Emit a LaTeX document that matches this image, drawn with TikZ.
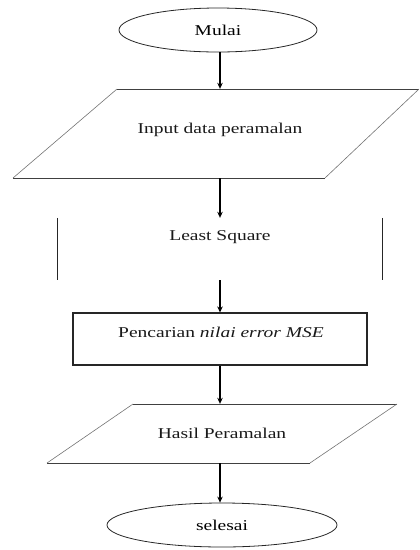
\documentclass[tikz,border=0pt]{standalone}
\usepackage{fontspec}
\setmainfont[FakeStretch=1.3]{Liberation Serif}
\usetikzlibrary{shapes.geometric,arrows.meta}

\tikzset{
  terminal/.style={ellipse, draw=black!85, line width=0.8pt, inner sep=0pt},
  frame/.style={draw=none, inner sep=0pt},
  procbox/.style={draw=black!85, line width=1.1pt, inner sep=0pt},
  flatedge/.style={draw=black!75, line width=1pt},
  slantedge/.style={draw=black!55, line width=0.6pt},
  sideline/.style={draw=black!85, line width=1.1pt},
  flow/.style={draw=black, line width=1.1pt, -{Stealth[length=6pt,width=5.5pt]}},
  caption/.style={font=\fontsize{15}{17}\selectfont, text=black!90, inner sep=0pt}
}

\begin{document}
\begin{tikzpicture}[x=1pt,y=-1pt]
  \useasboundingbox (0,0) rectangle (420,550);

  % start terminal
  \node[terminal, minimum width=198pt, minimum height=44pt, font=\fontsize{15}{17}\selectfont] (mulai) at (218,30) {Mulai};

  % data input (parallelogram)
  \node[frame, minimum width=200pt, minimum height=89pt] (input) at (220,133.5) {};
  \draw[flatedge] (117,89) -- (419,89);
  \draw[flatedge] (13,178) -- (325,178);
  \draw[slantedge] (117,89) -- (13,178);
  \draw[slantedge] (419,89) -- (325,178);
  \node[caption] (inputtext) at (220,130) {Input data peramalan};

  % least square step
  \node[frame, minimum width=324pt, minimum height=62pt] (lsq) at (220,249) {};
  \draw[sideline] (lsq.north west) -- (lsq.south west);
  \draw[sideline] (lsq.north east) -- (lsq.south east);
  \node[caption] (lsqtext) at (220,237) {Least Square};

  % error search step
  \node[procbox, minimum width=294pt, minimum height=52pt] (cari) at (220,339) {};
  \node[caption] (caritext) at (221,332) {Pencarian \textit{nilai error MSE}};

  % forecast output (parallelogram)
  \node[frame, minimum width=200pt, minimum height=59pt] (hasil) at (220,433.5) {};
  \draw[flatedge] (133,404) -- (397,404);
  \draw[flatedge] (47,463) -- (310,463);
  \draw[slantedge] (133,404) -- (47,463);
  \draw[slantedge] (397,404) -- (310,463);
  \node[caption] (hasiltext) at (222,433) {Hasil Peramalan};

  % end terminal
  \node[terminal, minimum width=230pt, minimum height=44pt, font=\fontsize{15}{17}\selectfont] (selesai) at (222,525) {selesai};

  % flow connectors
  \draw[flow] (mulai.south -| input.north) -- (input.north);
  \draw[flow] (input.south) -- (lsq.north);
  \draw[flow] (lsq.south) -- (cari.north);
  \draw[flow] (cari.south) -- (hasil.north);
  \draw[flow] (hasil.south) -- (hasil.south |- selesai.north);
\end{tikzpicture}
\end{document}
